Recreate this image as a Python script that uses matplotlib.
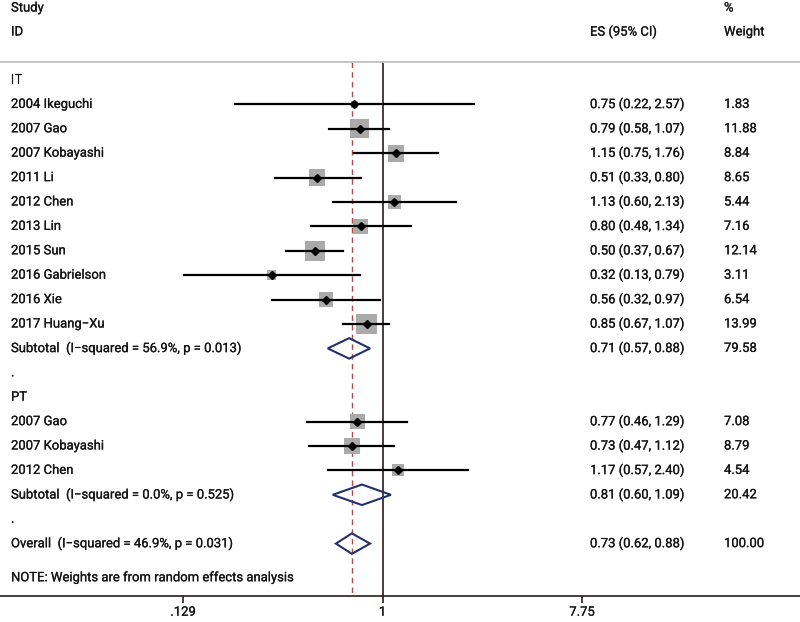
import numpy as np
import matplotlib
matplotlib.use('Agg')
import matplotlib.pyplot as plt
import matplotlib.patheffects as pe
from matplotlib.patches import Polygon
from matplotlib.transforms import blended_transform_factory

plt.rcParams['font.family'] = ['Roboto', 'DejaVu Sans']

# study-level data
it_names = ['2004 Ikeguchi', '2007 Gao', '2007 Kobayashi', '2011 Li', '2012 Chen',
            '2013 Lin', '2015 Sun', '2016 Gabrielson', '2016 Xie', '2017 Huang\u2212Xu']
it_es = [0.75, 0.79, 1.15, 0.51, 1.13, 0.80, 0.50, 0.32, 0.56, 0.85]
it_lo = [0.22, 0.58, 0.75, 0.33, 0.60, 0.48, 0.37, 0.13, 0.32, 0.67]
it_hi = [2.57, 1.07, 1.76, 0.80, 2.13, 1.34, 0.67, 0.79, 0.97, 1.07]
it_wt = [1.83, 11.88, 8.84, 8.65, 5.44, 7.16, 12.14, 3.11, 6.54, 13.99]

pt_names = ['2007 Gao', '2007 Kobayashi', '2012 Chen']
pt_es = [0.77, 0.73, 1.17]
pt_lo = [0.46, 0.47, 0.57]
pt_hi = [1.29, 1.12, 2.40]
pt_wt = [7.08, 8.79, 4.54]

# pooled estimates
pool_labels = ['Subtotal  (I\u2212squared = 56.9%, p = 0.013)',
               'Subtotal  (I\u2212squared = 0.0%, p = 0.525)',
               'Overall  (I\u2212squared = 46.9%, p = 0.031)']
pool_es = [0.71, 0.81, 0.73]
pool_lo = [0.57, 0.60, 0.62]
pool_hi = [0.88, 1.09, 0.88]
pool_wt = [79.58, 20.42, 100.00]

tick_vals = [0.129, 1, 7.75]
tick_labels = ['.129', '1', '7.75']

# ---- layout
W, H = 800, 622
fig = plt.figure(figsize=(W / 100, H / 100), dpi=100)
axis_px = 596          # y pixel of bottom axis line
ax = fig.add_axes([0, 1 - axis_px / H, 1, axis_px / H])

x_one, k = 382.5, 97.4  # pixel of 1 and pixels per ln-unit
ax.set_xscale('log')
ax.set_xlim(np.exp(-x_one / k), np.exp((W - x_one) / k))

row0, dy = 80, 24.4     # pixel of first row, row spacing
ax.set_ylim((axis_px - row0) / dy, -row0 / dy)

txt = '#151515'
fs = 9.4
bold_fx = [pe.withStroke(linewidth=0.15, foreground=txt)]
tr = blended_transform_factory(ax.transAxes, ax.transData)
col_name, col_es, col_wt = 11 / W, 590 / W, 724 / W


def put(x, y, s):
    ax.text(x, y, s, transform=tr, ha='left', va='center', fontsize=fs, color=txt,
            path_effects=bold_fx)


# headers
put(col_name, -2.95, 'Study')
put(col_name, -1.97, 'ID')
put(col_es, -1.97, 'ES (95% CI)')
put(col_wt, -2.95, '%')
put(col_wt, -1.97, 'Weight')
top_line = -0.74
ax.axhline(top_line, color='#c4c4c4', lw=1.4)

ylo = ax.get_ylim()[0]
ax.plot([1, 1], [top_line, ylo], color='#2a1c1c', lw=1.2, zorder=1)
ax.plot([pool_es[2]] * 2, [top_line, ylo], color='#b24a4a', lw=1.0,
        ls=(0, (4, 3)), zorder=1)


def study(y, name, es, lo, hi, wt):
    put(col_name, y, name)
    put(col_es, y, f'{es:.2f} ({lo:.2f}, {hi:.2f})')
    put(col_wt, y, f'{wt:.2f}')
    ax.scatter([es], [y], s=16.3 * wt, marker='s', color='#aaaaaa',
               edgecolors='none', zorder=2)
    ax.plot([lo, hi], [y, y], color='black', lw=1.6, zorder=3)
    ax.plot([es], [y], marker='D', ms=4, color='black', zorder=4)


def pooled(y, label, es, lo, hi, wt):
    put(col_name, y, label)
    put(col_es, y, f'{es:.2f} ({lo:.2f}, {hi:.2f})')
    put(col_wt, y, f'{wt:.2f}')
    h = 0.42
    ax.add_patch(Polygon([(lo, y), (es, y - h), (hi, y), (es, y + h)], closed=True,
                         fill=False, edgecolor='#24306a', lw=1.5, zorder=3))


row = 0
put(col_name, row, 'IT')
for i in range(len(it_names)):
    row += 1
    study(row, it_names[i], it_es[i], it_lo[i], it_hi[i], it_wt[i])
row += 1
pooled(row, pool_labels[0], pool_es[0], pool_lo[0], pool_hi[0], pool_wt[0])
row += 1
put(col_name, row, '.')
row += 1
put(col_name, row, 'PT')
for i in range(len(pt_names)):
    row += 1
    study(row, pt_names[i], pt_es[i], pt_lo[i], pt_hi[i], pt_wt[i])
row += 1
pooled(row, pool_labels[1], pool_es[1], pool_lo[1], pool_hi[1], pool_wt[1])
row += 1
put(col_name, row, '.')
row += 1
pooled(row, pool_labels[2], pool_es[2], pool_lo[2], pool_hi[2], pool_wt[2])
put(col_name, row + 1.4, 'NOTE: Weights are from random effects analysis')

for s in ['top', 'left', 'right']:
    ax.spines[s].set_visible(False)
ax.spines['bottom'].set_color('#2a1c1c')
ax.spines['bottom'].set_linewidth(1.2)
ax.set_yticks([])
ax.set_xticks(tick_vals)
ax.set_xticklabels(tick_labels)
for lab in ax.get_xticklabels():
    lab.set_path_effects(bold_fx)
ax.xaxis.set_minor_locator(matplotlib.ticker.NullLocator())
ax.tick_params(axis='x', length=5, width=1.2, color='#2a1c1c', labelsize=fs,
               labelcolor=txt, pad=2)

fig.savefig('out.png', dpi=100)
